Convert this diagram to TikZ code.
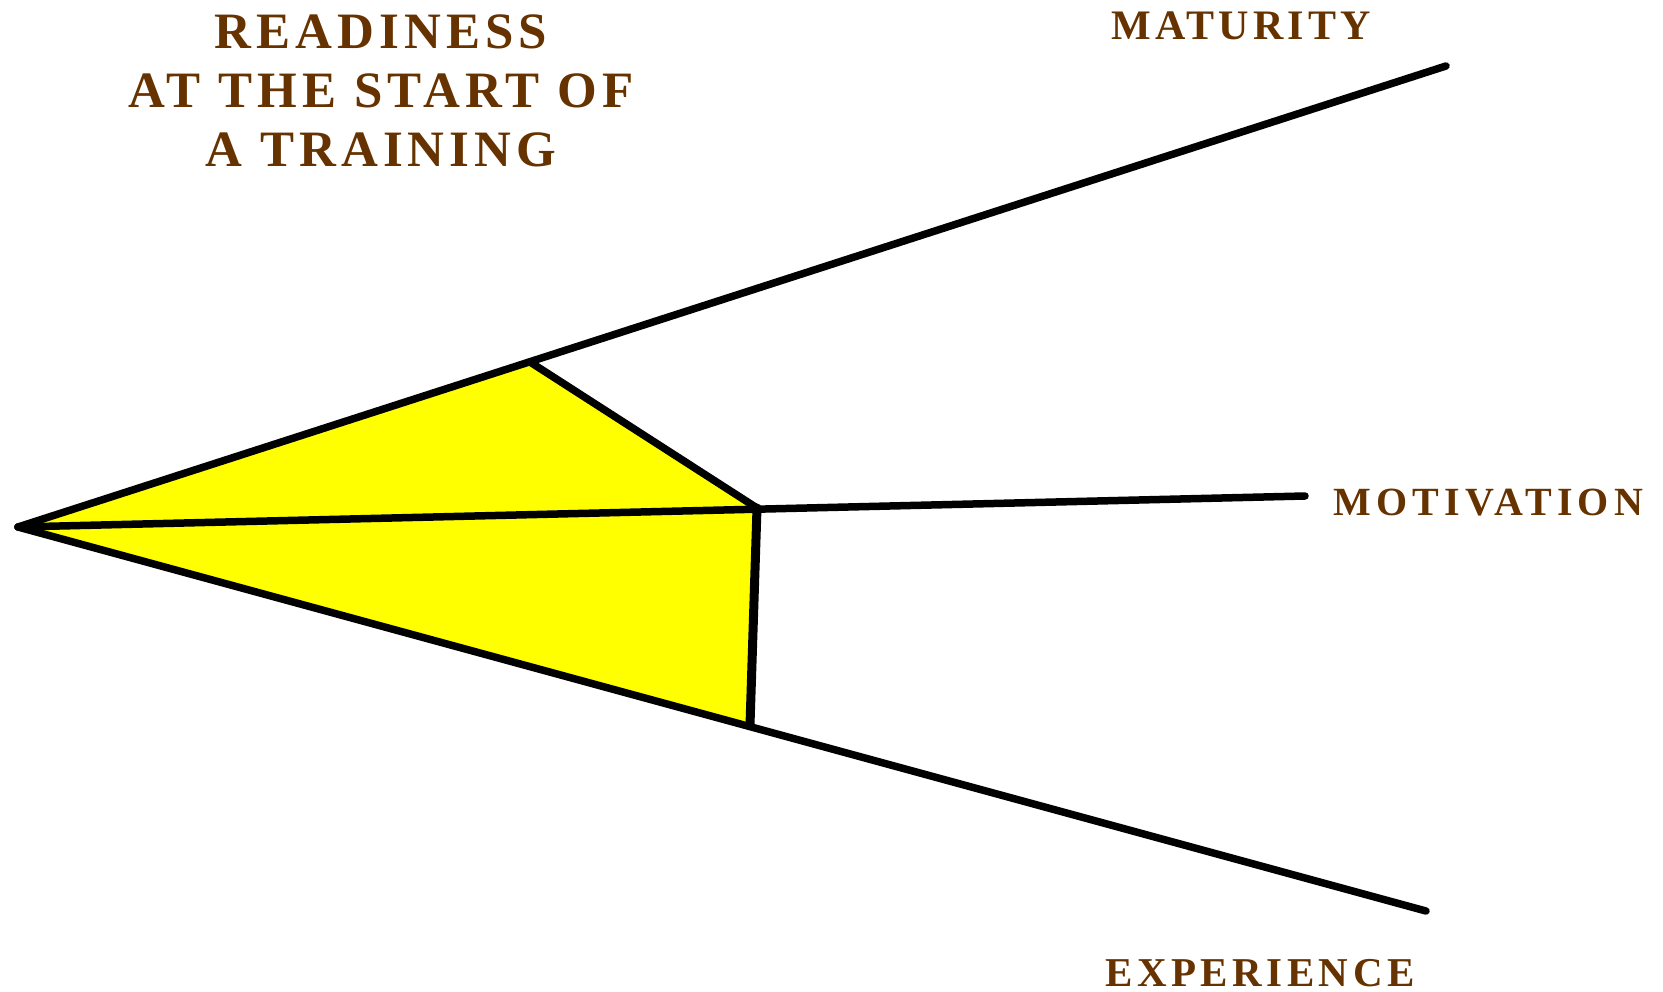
\documentclass[tikz,border=0pt]{standalone}
\usepackage{fontspec}
\setmainfont{Liberation Serif}
\newfontfamily\ttlfont[LetterSpace=10]{Liberation Serif Bold}
\newfontfamily\matfont[LetterSpace=10]{Liberation Serif Bold}
\newfontfamily\motfont[LetterSpace=13]{Liberation Serif Bold}
\newfontfamily\expfont[LetterSpace=11]{Liberation Serif Bold}
\definecolor{labbrown}{HTML}{663300}
\definecolor{fillyellow}{HTML}{FFFF00}
\tikzset{
  axisline/.style={draw=black, line width=7.5pt, line cap=round, line join=round},
  lab/.style={inner sep=0pt, text=labbrown, anchor=base west},
  ttl/.style={inner sep=0pt, text=labbrown, anchor=base, font=\ttlfont\fontsize{51}{59}\selectfont}
}
\begin{document}
\begin{tikzpicture}[x=1pt, y=-1pt]
\useasboundingbox (0,0) rectangle (1663,992);
% points
\coordinate (O) at (18,527);
\coordinate (M) at (1446,66);
\coordinate (V) at (1305,496);
\coordinate (E) at (1426,911);
\coordinate (U) at (530,362);
\coordinate (C) at (757,508);
\coordinate (L) at (750,725);
% yellow region
\fill[fillyellow] (O) -- (U) -- (C) -- (L) -- cycle;
% lines
\draw[axisline] (O) -- (M);
\draw[axisline] (O) -- (V);
\draw[axisline] (O) -- (E);
\draw[axisline] (U) -- (C);
\draw[axisline, line width=9pt] (C) -- (L);
% title
\node[ttl] (t1) at (381,49) {READINESS};
\node[ttl] (t2) at (381,108) {AT THE START OF};
\node[ttl] (t3) at (381,167) {A TRAINING};
% labels
\node[lab, font=\matfont\fontsize{42}{48}\selectfont] (lm) at (1111,40) {MATURITY};
\node[lab, font=\motfont\fontsize{40}{48}\selectfont] (lv) at (1333,515) {MOTIVATION};
\node[lab, font=\expfont\fontsize{41}{48}\selectfont] (le) at (1105,986) {EXPERIENCE};
\end{tikzpicture}
\end{document}
